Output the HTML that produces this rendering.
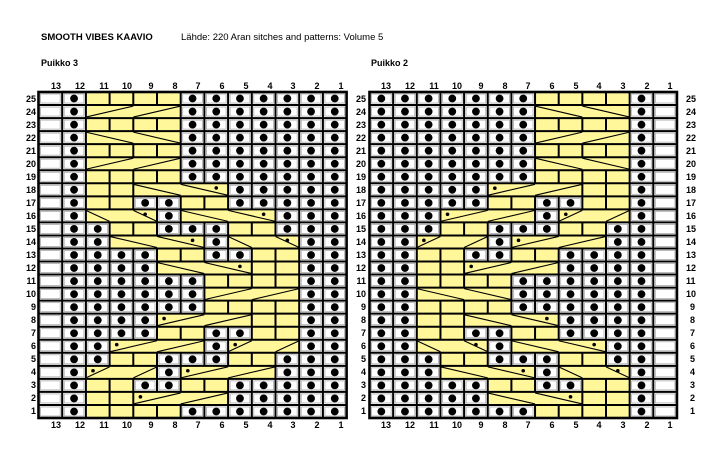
<!DOCTYPE html>
<html><head><meta charset="utf-8"><style>
html,body{margin:0;padding:0;background:#fff;width:721px;height:458px;overflow:hidden}
svg{display:block}
text{font-family:"Liberation Sans",sans-serif;font-size:9px;font-weight:bold;fill:#000}
</style></head><body>
<svg id="s" width="721" height="458" viewBox="0 0 721 458" xmlns="http://www.w3.org/2000/svg">
<rect width="721" height="458" fill="#fff"/>
<text x="41" y="40" style="font-size:9.5px">SMOOTH VIBES KAAVIO</text>
<text x="181" y="40" style="font-weight:normal;font-size:9.5px">Lähde: 220 Aran sitches and patterns: Volume 5</text>
<text x="41" y="66">Puikko 3</text>
<text x="371" y="66">Puikko 2</text>
<g id="g"></g>
<g text-anchor="middle">
<text x="56" y="89">13</text><text x="80" y="89">12</text><text x="104" y="89">11</text><text x="127" y="89">10</text><text x="151" y="89">9</text><text x="175" y="89">8</text><text x="198" y="89">7</text><text x="222" y="89">6</text><text x="246" y="89">5</text><text x="270" y="89">4</text><text x="293" y="89">3</text><text x="317" y="89">2</text><text x="341" y="89">1</text>
<text x="56" y="428">13</text><text x="80" y="428">12</text><text x="104" y="428">11</text><text x="127" y="428">10</text><text x="151" y="428">9</text><text x="175" y="428">8</text><text x="198" y="428">7</text><text x="222" y="428">6</text><text x="246" y="428">5</text><text x="270" y="428">4</text><text x="293" y="428">3</text><text x="317" y="428">2</text><text x="341" y="428">1</text>
<text x="386" y="89">13</text><text x="410" y="89">12</text><text x="434" y="89">11</text><text x="457" y="89">10</text><text x="481" y="89">9</text><text x="505" y="89">8</text><text x="528" y="89">7</text><text x="552" y="89">6</text><text x="576" y="89">5</text><text x="599" y="89">4</text><text x="623" y="89">3</text><text x="647" y="89">2</text><text x="670" y="89">1</text>
<text x="386" y="428">13</text><text x="410" y="428">12</text><text x="434" y="428">11</text><text x="457" y="428">10</text><text x="481" y="428">9</text><text x="505" y="428">8</text><text x="528" y="428">7</text><text x="552" y="428">6</text><text x="576" y="428">5</text><text x="599" y="428">4</text><text x="623" y="428">3</text><text x="647" y="428">2</text><text x="670" y="428">1</text>
</g>
<g text-anchor="end">
<text x="36" y="102">25</text><text x="36" y="115">24</text><text x="36" y="128">23</text><text x="36" y="141">22</text><text x="36" y="154">21</text><text x="36" y="167">20</text><text x="36" y="180">19</text><text x="36" y="193">18</text><text x="36" y="206">17</text><text x="36" y="219">16</text><text x="36" y="232">15</text><text x="36" y="245">14</text><text x="36" y="258">13</text><text x="36" y="271">12</text><text x="36" y="284">11</text><text x="36" y="297">10</text><text x="36" y="310">9</text><text x="36" y="323">8</text><text x="36" y="336">7</text><text x="36" y="349">6</text><text x="36" y="362">5</text><text x="36" y="375">4</text><text x="36" y="388">3</text><text x="36" y="401">2</text><text x="36" y="414">1</text>
<text x="366" y="102">25</text><text x="366" y="115">24</text><text x="366" y="128">23</text><text x="366" y="141">22</text><text x="366" y="154">21</text><text x="366" y="167">20</text><text x="366" y="180">19</text><text x="366" y="193">18</text><text x="366" y="206">17</text><text x="366" y="219">16</text><text x="366" y="232">15</text><text x="366" y="245">14</text><text x="366" y="258">13</text><text x="366" y="271">12</text><text x="366" y="284">11</text><text x="366" y="297">10</text><text x="366" y="310">9</text><text x="366" y="323">8</text><text x="366" y="336">7</text><text x="366" y="349">6</text><text x="366" y="362">5</text><text x="366" y="375">4</text><text x="366" y="388">3</text><text x="366" y="401">2</text><text x="366" y="414">1</text>
</g>
<g>
<text x="686" y="102">25</text><text x="686" y="115">24</text><text x="686" y="128">23</text><text x="686" y="141">22</text><text x="686" y="154">21</text><text x="686" y="167">20</text><text x="686" y="180">19</text><text x="686" y="193">18</text><text x="686" y="206">17</text><text x="686" y="219">16</text><text x="686" y="232">15</text><text x="686" y="245">14</text><text x="686" y="258">13</text><text x="686" y="271">12</text><text x="686" y="284">11</text><text x="686" y="297">10</text><text x="690" y="310">9</text><text x="690" y="323">8</text><text x="690" y="336">7</text><text x="690" y="349">6</text><text x="690" y="362">5</text><text x="690" y="375">4</text><text x="690" y="388">3</text><text x="690" y="401">2</text><text x="690" y="414">1</text>
</g>
</svg>
<script>
(function(){
var NS="http://www.w3.org/2000/svg",g=document.getElementById("g");
function el(n,a){var e=document.createElementNS(NS,n);for(var k in a)e.setAttribute(k,a[k]);g.appendChild(e);return e;}
var TOP=92,RH=13.04;
var A={
25:["wdyyyyddddddd"],24:["wdccccddddddd",[[2,1,4,0],[4,1,6,0]]],23:["wdyyyyddddddd"],
22:["wdccccddddddd",[[2,0,4,1],[4,0,6,1]]],21:["wdyyyyddddddd"],20:["wdccccddddddd",[[2,1,4,0],[4,1,6,0]]],
19:["wdyyyyddddddd"],18:["wdyyccccddddd",[[4,0,6,1],[6,0,8,1]],[[7.5,.28]]],
17:["wdyyddyyddddd"],16:["wdcccdccccddd",[[2,0,3,1],[4,0,5,1],[6,0,8,1],[8,0,10,1]],[[4.5,.3],[9.5,.3]]],
15:["wddyydddyyddd"],14:["wddccccdcccdd",[[3,0,5,1],[5,0,7,1],[8,0,9,1],[10,0,11,1]],[[6.5,.3],[10.5,.3]]],
13:["wddddyyddyydd"],12:["wddddccccyydd",[[5,0,7,1],[7,0,9,1]],[[8.5,.3]]],
11:["wddddddyyyydd"],10:["wddddddccccdd",[[7,1,9,0],[9,1,11,0]]],9:["wddddddyyyydd"],
8:["wddddccccyydd",[[5,1,7,0],[7,1,9,0]],[[5.3,.3]]],7:["wddddyyddyydd"],
6:["wddccccdcccdd",[[3,1,5,0],[5,1,7,0],[8,1,9,0],[10,1,11,0]],[[3.3,.3],[8.3,.3]]],
5:["wddyydddyyddd"],4:["wdcccdccccddd",[[2,1,3,0],[4,1,5,0],[6,1,8,0],[8,1,10,0]],[[2.3,.3],[6.3,.3]]],
3:["wdyyddyyddddd"],2:["wdyyccccddddd",[[4,1,6,0],[6,1,8,0]],[[4.3,.3]]],1:["wdyyyyddddddd"]};
var B={
25:["dddddddyyyydw"],24:["dddddddccccdw",[[7,0,9,1],[9,0,11,1]]],23:["dddddddyyyydw"],
22:["dddddddccccdw",[[7,1,9,0],[9,1,11,0]]],21:["dddddddyyyydw"],20:["dddddddccccdw",[[7,0,9,1],[9,0,11,1]]],
19:["dddddddyyyydw"],18:["dddddccccyydw",[[5,1,7,0],[7,1,9,0]],[[5.3,.3]]],
17:["dddddyyddyydw"],16:["dddccccdcccdw",[[3,1,5,0],[5,1,7,0],[8,1,9,0],[10,1,11,0]],[[3.3,.3],[8.3,.3]]],
15:["dddyydddyyddw"],14:["ddcccdccccddw",[[2,1,3,0],[4,1,5,0],[6,1,8,0],[8,1,10,0]],[[2.3,.3],[6.3,.3]]],
13:["ddyyddyyddddw"],12:["ddyyccccddddw",[[4,1,6,0],[6,1,8,0]],[[4.3,.3]]],
11:["ddyyyyddddddw"],10:["ddccccddddddw",[[2,0,4,1],[4,0,6,1]]],9:["ddyyyyddddddw"],
8:["ddyyccccddddw",[[4,0,6,1],[6,0,8,1]],[[7.5,.3]]],7:["ddyyddyyddddw"],
6:["ddcccdccccddw",[[2,0,3,1],[4,0,5,1],[6,0,8,1],[8,0,10,1]],[[4.5,.3],[9.5,.3]]],
5:["dddyydddyyddw"],4:["dddccccdcccdw",[[3,0,5,1],[5,0,7,1],[8,0,9,1],[10,0,11,1]],[[6.5,.3],[10.5,.3]]],
3:["dddddyyddyydw"],2:["dddddccccyydw",[[5,0,7,1],[7,0,9,1]],[[8.5,.3]]],1:["dddddddyyyydw"]};
function chart(D,X0,cw){
  var W=cw*13;
  for(var r=25;r>=1;r--){
    var d=D[r],c=d[0],y=TOP+(25-r)*RH;
    for(var i=0;i<13;i++){
      var ch=c[i],x=X0+i*cw;
      el("rect",{x:x,y:y,width:cw,height:RH,fill:(ch=="y"||ch=="c")?"#FFF79A":"#fff"});
      if(ch=="w"||ch=="d") el("rect",{x:x+2,y:y+2,width:cw-4,height:RH-4,fill:"none",stroke:"#aaa","stroke-width":"0.8"});
      if(ch=="d") el("circle",{cx:x+cw/2,cy:y+RH/2,r:3.9,fill:"#000"});
    }
    for(var i=1;i<13;i++){
      if(c[i]=="c"&&c[i-1]=="c")continue;
      var x=X0+i*cw; el("line",{x1:x,y1:y,x2:x,y2:y+RH,stroke:"#000","stroke-width":"2"});
    }
    (d[1]||[]).forEach(function(l){
      el("line",{x1:X0+l[0]*cw,y1:y+(l[1]?RH-1:1),x2:X0+l[2]*cw,y2:y+(l[3]?RH-1:1),stroke:"#000","stroke-width":"1.1"});
    });
    (d[2]||[]).forEach(function(m){
      el("circle",{cx:X0+m[0]*cw,cy:y+m[1]*RH+1,r:1.8,fill:"#000"});
    });
  }
  for(var r=0;r<=25;r++){var y=TOP+r*RH;el("line",{x1:X0,y1:y,x2:X0+W,y2:y,stroke:"#000","stroke-width":"2"});}
  el("rect",{x:X0,y:TOP,width:W,height:RH*25,fill:"none",stroke:"#000","stroke-width":"2.6"});
}
chart(A,38.5,23.7);
chart(B,369.5,23.65);
})();
</script>
</body></html>
